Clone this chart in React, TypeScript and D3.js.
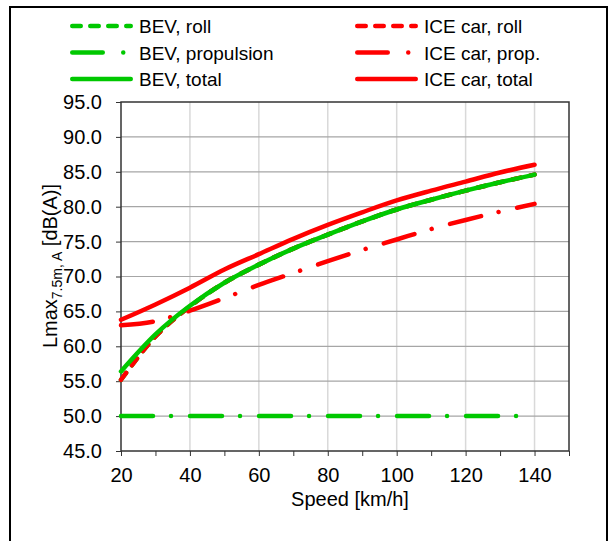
import React, { useEffect, useRef } from 'react';
import * as d3 from 'd3';

// speeds in km/h
const speeds = [20, 30, 40, 50, 60, 70, 80, 90, 100, 110, 120, 130, 140];

// Lmax 7.5m, A in dB(A)
const bevRoll = [55.2, 61.4, 65.7, 69.1, 71.7, 74.0, 76.0, 77.9, 79.6, 81.0, 82.3, 83.5, 84.6];
const bevProp = [50.0, 50.0, 50.0, 50.0, 50.0, 50.0, 50.0, 50.0, 50.0, 50.0, 50.0, 50.0, 50.0];
const bevTotal = [56.4, 61.7, 65.8, 69.1, 71.7, 74.0, 76.0, 77.9, 79.6, 81.0, 82.3, 83.5, 84.6];
const iceRoll = [55.2, 61.4, 65.7, 69.1, 71.7, 74.0, 76.0, 77.9, 79.6, 81.0, 82.3, 83.5, 84.6];
const iceProp = [63.0, 63.6, 65.1, 66.9, 68.8, 70.5, 72.2, 73.8, 75.3, 76.8, 78.1, 79.3, 80.4];
const iceTotal = [63.8, 66.0, 68.4, 71.0, 73.2, 75.4, 77.4, 79.2, 80.9, 82.3, 83.6, 84.9, 86.0];

const yTicks = [45, 50, 55, 60, 65, 70, 75, 80, 85, 90, 95];
const xTicks = [20, 40, 60, 80, 100, 120, 140];

const GREEN = '#00c800';
const RED = '#ff0000';
const DASH = '8.5 9.5';
const DASHDOT = '32 18 0.01 19';

const series = [
  { name: 'BEV, roll', values: bevRoll, color: GREEN, dash: DASH, col: 0, row: 0 },
  { name: 'ICE car, roll', values: iceRoll, color: RED, dash: DASH, col: 1, row: 0 },
  { name: 'BEV, propulsion', values: bevProp, color: GREEN, dash: DASHDOT, col: 0, row: 1 },
  { name: 'ICE car, prop.', values: iceProp, color: RED, dash: DASHDOT, col: 1, row: 1 },
  { name: 'BEV, total', values: bevTotal, color: GREEN, dash: null, col: 0, row: 2 },
  { name: 'ICE car, total', values: iceTotal, color: RED, dash: null, col: 1, row: 2 },
];

const FONT = 'Liberation Sans, Arial, sans-serif';

export default function App() {
  const ref = useRef<SVGSVGElement>(null);

  useEffect(() => {
    const svg = d3.select(ref.current);
    svg.selectAll('*').remove();

    const x = d3.scaleLinear().domain([20, 150]).range([121, 569]);
    const y = d3.scaleLinear().domain([45, 95]).range([451, 102]);

    // outer frame
    svg.append('rect')
      .attr('x', 10).attr('y', 7).attr('width', 597).attr('height', 560)
      .attr('fill', 'white').attr('stroke', '#000').attr('stroke-width', 2);

    // grid
    svg.append('g').selectAll('line').data(xTicks.filter(d => d > 20)).enter().append('line')
      .attr('x1', d => x(d)).attr('x2', d => x(d))
      .attr('y1', y(95)).attr('y2', y(45))
      .attr('stroke', '#d9d9d9').attr('stroke-width', 1.5);
    svg.append('g').selectAll('line').data(yTicks.filter(d => d > 45 && d < 95)).enter().append('line')
      .attr('x1', x(20)).attr('x2', x(150))
      .attr('y1', d => y(d)).attr('y2', d => y(d))
      .attr('stroke', '#a6a6a6').attr('stroke-width', 1.2);

    // plot border
    svg.append('rect')
      .attr('x', x(20)).attr('y', y(95))
      .attr('width', x(150) - x(20)).attr('height', y(45) - y(95))
      .attr('fill', 'none').attr('stroke', '#333').attr('stroke-width', 1.5);

    // y axis
    const yAxis = d3.axisLeft(y).tickValues(yTicks).tickSize(5).tickSizeOuter(0)
      .tickFormat(d => (d as number).toFixed(1));
    svg.append('g').attr('transform', `translate(${x(20)},0)`).call(yAxis)
      .call(g => g.select('.domain').remove())
      .call(g => g.selectAll('line').attr('stroke', '#333'))
      .call(g => g.selectAll('text').attr('font-size', 20).attr('font-family', FONT).attr('fill', '#000').attr('x', -19));

    // x axis
    const xAxis = d3.axisBottom(x).tickValues(d3.range(20, 151, 10)).tickSize(5).tickSizeOuter(0)
      .tickFormat(d => ((d as number) % 20 === 0 && (d as number) <= 140 ? String(d) : ''));
    svg.append('g').attr('transform', `translate(0,${y(45)})`).call(xAxis)
      .call(g => g.select('.domain').remove())
      .call(g => g.selectAll('line').attr('stroke', '#333'))
      .call(g => g.selectAll('text').attr('font-size', 20).attr('font-family', FONT).attr('fill', '#000').attr('y', 17));

    // axis titles
    svg.append('text')
      .attr('x', 350).attr('y', 506)
      .attr('text-anchor', 'middle').attr('font-size', 20).attr('font-family', FONT)
      .text('Speed [km/h]');

    const yt = svg.append('text')
      .attr('transform', 'translate(57,266) rotate(-90)')
      .attr('text-anchor', 'middle').attr('font-size', 20).attr('font-family', FONT);
    yt.append('tspan').text('Lmax');
    yt.append('tspan').attr('dy', 5).attr('font-size', 14).text('7.5m, A');
    yt.append('tspan').attr('dy', -5).text(' [dB(A)]');

    // lines
    const line = d3.line<number>()
      .x((_, i) => x(speeds[i]))
      .y(d => y(d))
      .curve(d3.curveMonotoneX);

    series.forEach(s => {
      svg.append('path')
        .attr('d', line(s.values))
        .attr('fill', 'none')
        .attr('stroke', s.color)
        .attr('stroke-width', 4.5)
        .attr('stroke-linecap', 'round')
        .attr('stroke-dasharray', s.dash);
    });

    // legend
    const lg = svg.append('g');
    series.forEach(s => {
      const lx = s.col === 0 ? 70 : 355;
      const ly = 26 + s.row * 26.5;
      lg.append('line')
        .attr('x1', lx + 2.25).attr('x2', lx + 63 - 2.25).attr('y1', ly).attr('y2', ly)
        .attr('stroke', s.color).attr('stroke-width', 4.5)
        .attr('stroke-linecap', 'round')
        .attr('stroke-dasharray', s.dash === DASHDOT ? '30.5 20.5 0.01 100' : s.dash);
      lg.append('text')
        .attr('x', lx + 69).attr('y', ly + 7)
        .attr('font-size', 19).attr('font-family', FONT)
        .text(s.name);
    });
  }, []);

  return (
    <div style={{ position: 'absolute', left: 0, top: 0 }}>
      <svg ref={ref} width={615} height={541} style={{ display: 'block' }} />
    </div>
  );
}
